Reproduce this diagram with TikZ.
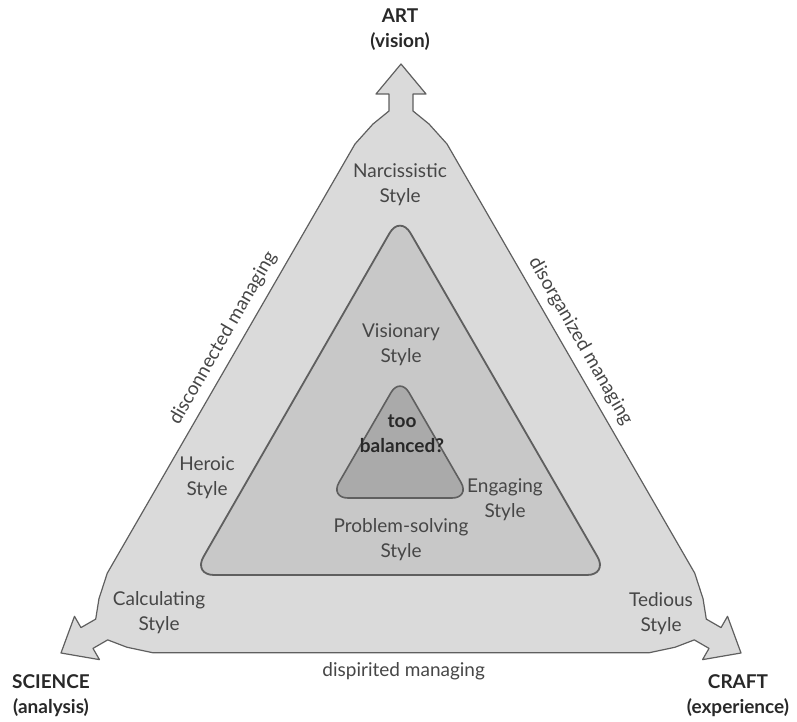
\documentclass[tikz,border=0pt]{standalone}
\usepackage{fontspec}
\setmainfont{Lato}
\usetikzlibrary{calc}
\definecolor{ink}{RGB}{40,40,40}
\definecolor{softink}{RGB}{70,70,70}
\definecolor{edgegrey}{RGB}{95,95,95}
\definecolor{outerfill}{RGB}{218,218,218}
\definecolor{midfill}{RGB}{200,200,200}
\definecolor{corefill}{RGB}{170,170,170}

\begin{document}
\begin{tikzpicture}[x=1pt, y=1pt,
    band/.style={draw=edgegrey, line width=1.2pt, line join=round},
    lbl/.style={font=\fontsize{19}{25}\selectfont, text=softink, align=center, inner sep=1pt},
    pole/.style={font=\fontsize{19}{25}\selectfont\bfseries, text=ink, align=center, inner sep=1pt},
    sidelbl/.style={font=\fontsize{19}{25}\selectfont, text=softink, sloped, inner sep=1pt}
  ]
  \useasboundingbox (0,0) rectangle (797,722);
  % ---------------- outer triangle ----------------
  \coordinate (A) at (401,658);
  \coordinate (B) at (61,69);
  \coordinate (C) at (741,69);
  \foreach \v/\a in {A/0, B/120, C/240}{
    \begin{scope}[shift={(\v)}, rotate=\a]
      \coordinate (\v-in) at (46,-80);
      \coordinate (\v-sr) at (28,-60);
      \coordinate (\v-hr) at (12,-47);
      \coordinate (\v-nr) at (12,-30);
      \coordinate (\v-br) at (25,-30);
      \coordinate (\v-tip) at (0,0);
      \coordinate (\v-bl) at (-25,-30);
      \coordinate (\v-nl) at (-12,-30);
      \coordinate (\v-hl) at (-12,-47);
      \coordinate (\v-sl) at (-28,-60);
      \coordinate (\v-out) at (-46,-80);
    \end{scope}
  }
  \draw[band, fill=outerfill] (C-out)
    \foreach \v in {A,B,C}{ -- (\v-in) -- (\v-sr) -- (\v-hr) -- (\v-nr) -- (\v-br)
      -- (\v-tip) -- (\v-bl) -- (\v-nl) -- (\v-hl) -- (\v-sl) -- (\v-out)} -- cycle;

  % ---------------- inner triangles ----------------
  \draw[draw=edgegrey, line width=1.8pt, fill=midfill, rounded corners=21pt]
    (400,507) -- (193,147) -- (608,147) -- cycle;
  \draw[draw=edgegrey, line width=1.6pt, fill=corefill, rounded corners=18pt]
    (400,345) -- (330,224) -- (470,224) -- cycle;

  % ---------------- labels ----------------
  \node[pole] (art) at (400,692) {ART\\(vision)};
  \node[pole] (science) at (51,26) {SCIENCE\\(analysis)};
  \node[pole] (craft) at (738,26) {CRAFT\\(experience)};
  \node[lbl] (narc) at (400,537) {Narcissistic\\Style};
  \node[lbl] (vis) at (401,377) {Visionary\\Style};
  \node[pole] (bal) at (402,288) {too\\balanced?};
  \node[lbl] (hero) at (207,244) {Heroic\\Style};
  \node[lbl] (eng) at (505,222) {Engaging\\Style};
  \node[lbl] (prob) at (401,182) {Problem-solving\\Style};
  \node[lbl] (calcst) at (159,109) {Calculating\\Style};
  \node[lbl] (ted) at (661,108) {Tedious\\Style};
  \path (B) -- (A) node[sidelbl, pos=0.52, above=7pt] (discon) {disconnected managing};
  \path (A) -- (C) node[sidelbl, pos=0.485, above=7pt] (disorg) {disorganized managing};
  \path (B) -- (C) node[sidelbl, pos=0.504, below=8pt] (dispir) {dispirited managing};
\end{tikzpicture}
\end{document}
